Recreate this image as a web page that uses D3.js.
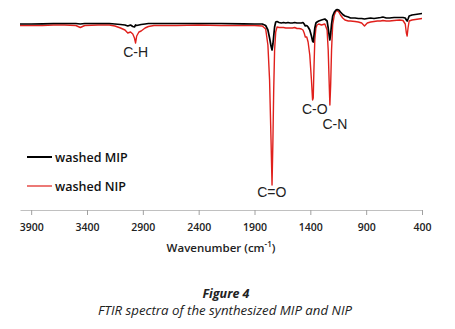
<!DOCTYPE html>
<html><head><meta charset="utf-8">
<script src="https://cdn.jsdelivr.net/npm/d3@7"></script>
<style>
html,body{margin:0;padding:0;background:#fff;}
svg{display:block;}
</style></head>
<body>
<script>
// Wavenumbers (cm-1) shared by both spectra
const wavenumbers = [4000,3900,3800,3700,3600,3500,3460,3420,3300,3200,3150,3100,3060,3035,3010,2990,2975,2965,2955,2935,2915,2880,2850,2800,2600,2400,2200,2000,1900,1830,1800,1780,1765,1752,1743,1735,1728,1720,1710,1698,1680,1660,1640,1620,1600,1580,1560,1540,1520,1500,1480,1466,1455,1445,1432,1420,1405,1390,1380,1374,1368,1360,1350,1340,1325,1300,1270,1250,1240,1232,1225,1218,1210,1200,1185,1170,1160,1145,1130,1110,1090,1060,1040,1000,970,940,915,890,860,830,800,770,750,720,690,650,600,570,550,540,533,525,515,490,460,430,400];
// Transmittance (%) — washed MIP
const mipT = [93,93,93.1,93.25,93.25,93.25,93,93.25,93.25,93.25,93,92.75,92.5,92,92.5,91.75,91.5,92.5,92.25,92.5,92.75,93,93.25,93.25,93.25,93.25,93.25,93.1,93,93,92.25,90,86,82,80,83,87,91.5,94,94.25,93.75,93.5,93.75,93.5,93.75,93.5,93.5,93.75,93.5,93.5,93.5,93.75,93,92,92.25,91.5,90,87,84.5,84,87,91,93.5,94,94.5,95,95.5,94.5,91,87.5,85,88,93,97,99,100,100.25,100,99,97.75,97,96.5,96,96,95.75,95.75,95.5,95.75,96,95.75,96,96.25,96.5,96,96,96.25,96.25,96.25,96,95,94.5,95.5,97,97.5,97.75,98,98.25];
// Transmittance (%) — washed NIP
const nipT = [92.25,92.25,92.25,92.5,92.5,92.25,91.25,92.25,92.5,92.5,92,91,90,88.5,89,88,86,83.5,87,89,89.5,91,91.75,92.25,92.25,92.5,92.25,92.25,92.25,92,90.5,82.5,65,35,12.5,35,60,80,89,91.5,91.25,91.25,91.25,91,91,91,91,91.25,90.75,90.75,90.5,90,88.5,86.5,86.5,84,77.5,65,55,56,70,85,91,92.5,93,92.5,93,90,80,65,52.5,62.5,80,92.5,97.5,99.5,99.75,99,97.5,96,95,94.5,94.5,94.25,94,93.5,92,93.5,94,94.25,94.5,94.5,94.75,94.5,94.5,94.75,95,94.75,93,88.5,87,91,94.5,95,95.25,95.5,95.75];
const xTicks = [3900,3400,2900,2400,1900,1400,900,400];
const seriesNames = ["washed MIP","washed NIP"];
const seriesColors = ["#000000","#e0201c"];
const peakLabels = ["C-H","C=O","C-O","C-N"];

const W = 455, H = 329;
const svg = d3.select("body").append("svg").attr("width", W).attr("height", H);

const x = d3.scaleLinear().domain([4000, 400]).range([20, 422]);
const y = d3.scaleLinear().domain([0, 100]).range([210, 10]);

// axis
const axis = d3.axisBottom(x).tickValues(xTicks).tickSize(5).tickSizeOuter(0).tickFormat(d3.format("d"));
const gx = svg.append("g").attr("transform", "translate(0,210)").call(axis);
gx.select(".domain").attr("stroke", "#c0c0c0").attr("stroke-width", 1);
gx.selectAll(".tick line").attr("stroke", "#a0a0a0");
gx.selectAll(".tick text").attr("fill", "#222").attr("font-family", "'Open Sans', sans-serif")
  .attr("font-weight", 600).attr("font-size", "10.5px").attr("dy", "1.25em");

svg.append("text").attr("x", 221).attr("y", 252).attr("text-anchor", "middle")
  .attr("font-family", "'Open Sans', sans-serif").attr("font-weight", 600).attr("font-size", "11.5px").attr("fill", "#222")
  .html('Wavenumber (cm<tspan baseline-shift="super" font-size="8px">-1</tspan>)');

const line = d3.line().x((d, i) => x(wavenumbers[i])).y(d => y(d));
svg.append("path").datum(nipT).attr("d", line).attr("fill", "none").attr("stroke", seriesColors[1]).attr("stroke-width", 1.4).attr("stroke-linejoin", "round");
svg.append("path").datum(mipT).attr("d", line).attr("fill", "none").attr("stroke", seriesColors[0]).attr("stroke-width", 1.7).attr("stroke-linejoin", "round");

// peak labels
const peakPos = [[2965, 57], [1745, 197], [1360, 114], [1180, 129]];
svg.selectAll("text.pk").data(peakLabels).enter().append("text").attr("class", "pk")
  .attr("x", (d, i) => x(peakPos[i][0])).attr("y", (d, i) => peakPos[i][1])
  .attr("text-anchor", "middle").attr("font-family", "'Liberation Sans', Arial, sans-serif")
  .attr("font-size", "14px").attr("fill", "#222").text(d => d);

// legend
const leg = svg.selectAll("g.leg").data(seriesNames).enter().append("g").attr("class", "leg")
  .attr("transform", (d, i) => `translate(27,${157 + i * 29})`);
leg.append("line").attr("x1", 0).attr("x2", 25).attr("stroke", (d, i) => seriesColors[i]).attr("stroke-width", (d, i) => i === 0 ? 2 : 1.2);
leg.append("text").attr("x", 28).attr("y", 4.5).attr("font-family", "'Open Sans', sans-serif").attr("font-weight", 600)
  .attr("font-size", "12.5px").attr("fill", "#111").text(d => d);

// caption
svg.append("text").attr("x", 226).attr("y", 298).attr("text-anchor", "middle")
  .attr("font-family", "'Open Sans', sans-serif").attr("font-weight", 700).attr("font-style", "italic")
  .attr("font-size", "12.5px").attr("fill", "#222").text("Figure 4");
svg.append("text").attr("x", 225).attr("y", 315).attr("text-anchor", "middle")
  .attr("font-family", "'Open Sans', sans-serif").attr("font-style", "italic")
  .attr("font-size", "12px").attr("fill", "#222").attr("textLength", 254).attr("lengthAdjust", "spacingAndGlyphs")
  .text("FTIR spectra of the synthesized MIP and NIP");
</script>
</body></html>
